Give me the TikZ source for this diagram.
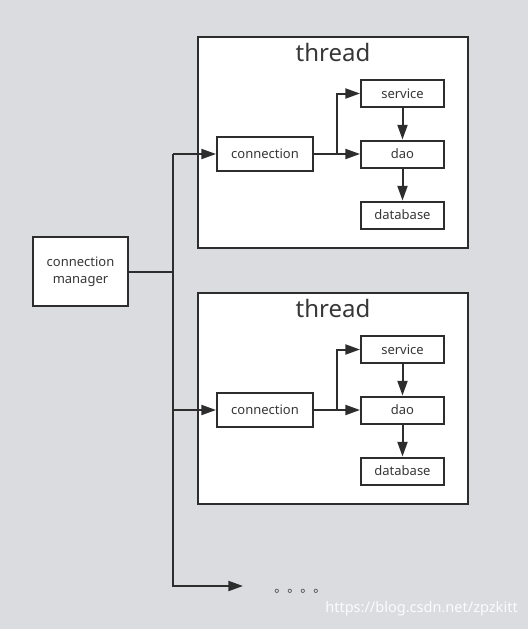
\documentclass[tikz,border=0pt]{standalone}
\usepackage{fontspec}
\setmainfont{Noto Sans}
\newfontfamily\cjk{Noto Sans CJK SC}
\usetikzlibrary{arrows.meta}
\definecolor{bggray}{RGB}{219,220,224}
\definecolor{ink}{RGB}{45,45,45}
\definecolor{txt}{RGB}{55,55,55}

\begin{document}
\begin{tikzpicture}[x=0.75pt,y=-0.75pt,
		box/.style={draw=ink,line width=1.5pt,fill=white,inner sep=0pt,
			text=txt,font=\fontsize{9.75}{12.75}\selectfont},
		smallbox/.style={box,minimum width=62.25pt,minimum height=20.25pt},
		connbox/.style={box,minimum width=72pt,minimum height=25.5pt},
		threadbox/.style={box,minimum width=202.5pt,minimum height=158.25pt},
		line/.style={draw=ink,line width=1.5pt},
		arr/.style={line,-{Triangle[length=11pt,width=7.5pt]}}
		]
		\fill[bggray] (0,0) rectangle (528,629);
		\useasboundingbox (0,0) rectangle (528,629);

		\node[box,minimum width=71.25pt,minimum height=51.75pt,align=center](mgr)
			at (80.5,271.5){connection\\manager};

		% one thread box per row
		\foreach \t/\dy in {A/0,B/256}{
			\node[threadbox](thr\t) at (333,142.5+\dy){};
			\node[text=txt,font=\fontsize{18}{20}\selectfont](lbl\t) at (333,52+\dy){thread};
			\node[connbox](conn\t) at (265,154+\dy){connection};
			\node[smallbox](serv\t) at (402.5,93.5+\dy){service};
			\node[smallbox](dao\t) at (402.5,154+\dy){dao};
			\node[smallbox](db\t) at (402.5,215+\dy){database};
			\coordinate (br\t) at (337,154+\dy);
			\coordinate (j\t) at (173,154+\dy);
			\draw[arr] (conn\t) -- (dao\t);
			\draw[arr] (br\t) |- (serv\t);
			\draw[arr] (serv\t) -- (dao\t);
			\draw[arr] (dao\t) -- (db\t);
			\draw[arr] (j\t) -- (conn\t);
		}

		\coordinate (jEnd) at (243,586);
		\draw[line] (mgr.east) -- (mgr.east -| jA);
		\draw[arr] (jA) |- (jEnd);
		\node[text=txt,font=\cjk\fontsize{9.75}{11}\selectfont,anchor=base west,inner sep=0pt](more)
			at (274,592){。。。。};

		\node[text=white,font=\fontsize{10.9}{12}\selectfont,anchor=base east,inner sep=0pt,opacity=0.9](mark)
			at (518,612){https://blog.csdn.net/zpzkitt};
	\end{tikzpicture}
\end{document}
